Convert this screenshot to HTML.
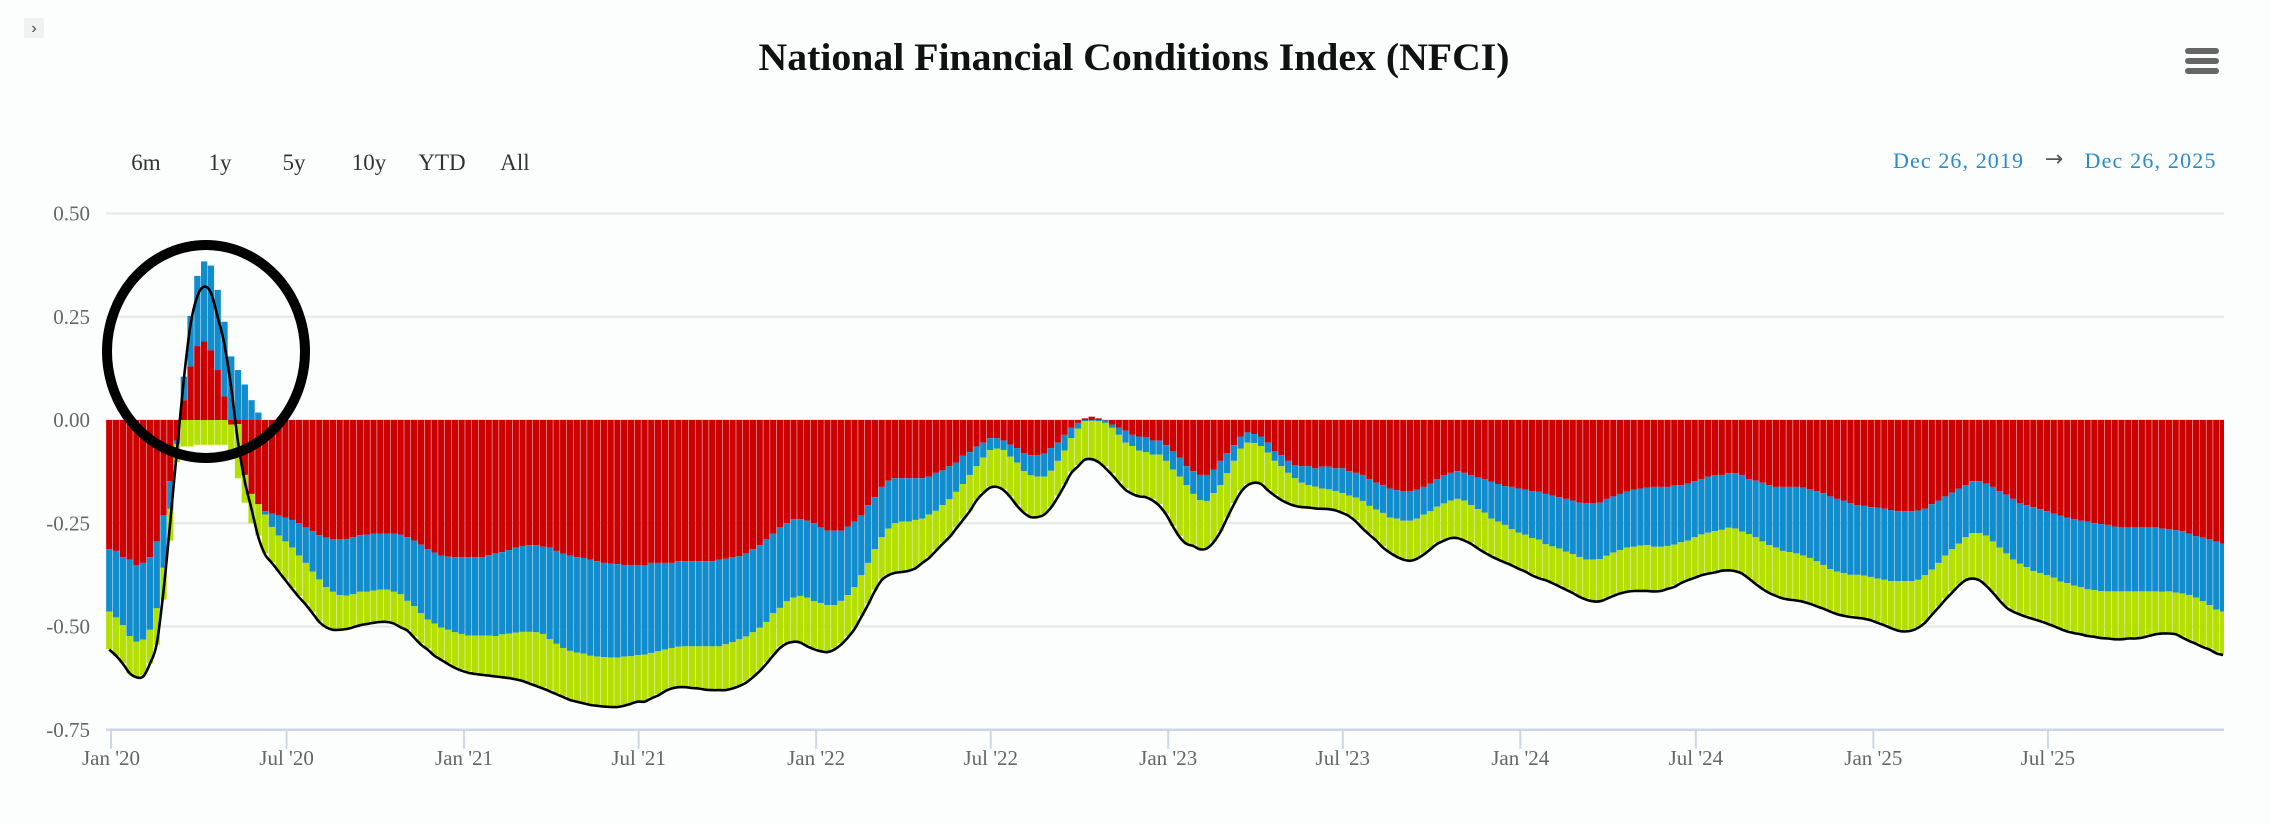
<!DOCTYPE html>
<html><head><meta charset="utf-8"><title>NFCI</title>
<style>
html,body{margin:0;padding:0;background:#fcfdfd;}
#wrap{position:relative;width:2270px;height:824px;overflow:hidden;background:#fcfdfd;font-family:"Liberation Serif",serif;}
svg{position:absolute;left:0;top:0;}
</style></head>
<body>
<div id="wrap">
<svg id="chart" width="2270" height="824" viewBox="0 0 2270 824">
  <rect x="24" y="18" width="20" height="20" fill="#f0f1f1"/>
  <text x="34" y="33" font-size="16" fill="#444" text-anchor="middle" font-family="Liberation Sans, sans-serif">›</text>
  <text x="1134" y="70" font-size="39" font-weight="bold" fill="#111" text-anchor="middle" textLength="751" lengthAdjust="spacingAndGlyphs">National Financial Conditions Index (NFCI)</text>
  <g fill="#666">
    <rect x="2185" y="48" width="34" height="6" rx="3"/>
    <rect x="2185" y="58" width="34" height="6" rx="3"/>
    <rect x="2185" y="68" width="34" height="6" rx="3"/>
  </g>
  <g font-size="23" fill="#333" text-anchor="middle">
    <text x="146" y="170">6m</text>
    <text x="220" y="170">1y</text>
    <text x="294" y="170">5y</text>
    <text x="369" y="170">10y</text>
    <text x="442" y="170">YTD</text>
    <text x="515" y="170">All</text>
  </g>
  <text x="1958" y="168" font-size="22" fill="#2a8bc6" text-anchor="middle" textLength="130">Dec 26, 2019</text>
  <text x="2054" y="166" font-size="22" fill="#555" text-anchor="middle" font-family="DejaVu Sans, sans-serif">→</text>
  <text x="2150" y="168" font-size="22" fill="#2a8bc6" text-anchor="middle" textLength="131">Dec 26, 2025</text>
  <g id="grid"></g>
  <g id="ylabels"></g>
  <defs><clipPath id="plotclip"><rect x="106" y="190" width="2118" height="545"/></clipPath></defs>
  <g id="bars" clip-path="url(#plotclip)"></g>
  <path id="nfciLine" fill="none" stroke="#000" stroke-width="2.6" stroke-linejoin="round"/>
  <g id="xaxis"></g>
  <ellipse cx="206" cy="351.5" rx="99" ry="106.5" fill="none" stroke="#000" stroke-width="10"/>
</svg>
</div>
<script>
const yTicks = [0.5, 0.25, 0, -0.25, -0.5, -0.75];
const yTickLabels = ["0.50","0.25","0.00","-0.25","-0.50","-0.75"];
const xTickDays = [0,182,366,547,731,912,1096,1277,1461,1643,1827,2008];
const xTickLabels = ["Jan '20","Jul '20","Jan '21","Jul '21","Jan '22","Jul '22","Jan '23","Jul '23","Jan '24","Jul '24","Jan '25","Jul '25"];
const riskValues = [
-.313,-.317,-.332,-.338,-.352,-.346,-.332,-.294,-.231,-.148,
-.050,.048,.130,.179,.190,.169,.121,.057,-.011,-.010,
-.133,-.179,-.204,-.221,-.227,-.231,-.236,-.242,-.250,-.260,
-.269,-.279,-.285,-.289,-.289,-.288,-.284,-.279,-.278,-.275,
-.275,-.275,-.275,-.278,-.284,-.292,-.302,-.313,-.321,-.328,
-.331,-.332,-.332,-.332,-.332,-.332,-.327,-.323,-.320,-.315,
-.309,-.305,-.303,-.303,-.307,-.309,-.317,-.324,-.328,-.332,
-.334,-.338,-.342,-.346,-.348,-.349,-.351,-.351,-.351,-.352,
-.346,-.346,-.346,-.346,-.342,-.342,-.342,-.342,-.342,-.342,
-.338,-.336,-.332,-.330,-.323,-.313,-.303,-.289,-.275,-.260,
-.250,-.240,-.240,-.244,-.250,-.260,-.268,-.268,-.268,-.258,
-.246,-.231,-.206,-.187,-.162,-.147,-.141,-.141,-.141,-.141,
-.141,-.137,-.128,-.122,-.112,-.103,-.086,-.078,-.064,-.055,
-.044,-.044,-.050,-.060,-.068,-.080,-.085,-.085,-.081,-.068,
-.055,-.036,-.019,-.007,.004,.008,.004,-.001,-.011,-.019,
-.026,-.036,-.040,-.042,-.050,-.050,-.061,-.076,-.091,-.112,
-.124,-.133,-.133,-.120,-.099,-.080,-.061,-.040,-.030,-.034,
-.040,-.055,-.076,-.085,-.099,-.109,-.112,-.112,-.117,-.113,
-.113,-.117,-.117,-.124,-.128,-.133,-.143,-.152,-.158,-.166,
-.170,-.172,-.172,-.169,-.162,-.154,-.143,-.134,-.128,-.124,
-.128,-.134,-.139,-.143,-.149,-.155,-.160,-.162,-.166,-.169,
-.172,-.174,-.179,-.183,-.187,-.191,-.195,-.200,-.201,-.201,
-.200,-.191,-.185,-.179,-.173,-.169,-.166,-.164,-.162,-.162,
-.162,-.159,-.158,-.154,-.148,-.143,-.137,-.134,-.133,-.129,
-.129,-.133,-.143,-.147,-.152,-.158,-.162,-.162,-.162,-.162,
-.164,-.168,-.172,-.177,-.185,-.191,-.195,-.201,-.206,-.208,
-.211,-.212,-.215,-.218,-.221,-.221,-.221,-.219,-.215,-.204,
-.195,-.185,-.176,-.166,-.158,-.148,-.148,-.154,-.162,-.172,
-.181,-.191,-.201,-.206,-.211,-.216,-.221,-.227,-.232,-.236,
-.240,-.244,-.246,-.250,-.252,-.254,-.258,-.260,-.260,-.260,
-.260,-.260,-.260,-.263,-.264,-.267,-.269,-.275,-.281,-.285,
-.289,-.294,-.299];
const creditValues = [
-.151,-.161,-.165,-.185,-.185,-.186,-.176,-.162,-.127,-.067,
-.008,.057,.122,.170,.194,.205,.194,.181,.154,.121,
.086,.048,.018,-.008,-.032,-.049,-.058,-.067,-.078,-.086,
-.098,-.107,-.120,-.127,-.135,-.137,-.138,-.137,-.138,-.138,
-.136,-.136,-.141,-.144,-.154,-.159,-.166,-.170,-.172,-.175,
-.177,-.182,-.186,-.190,-.190,-.190,-.195,-.200,-.199,-.202,
-.206,-.208,-.210,-.211,-.211,-.222,-.225,-.228,-.231,-.231,
-.232,-.233,-.231,-.228,-.227,-.226,-.222,-.221,-.218,-.216,
-.218,-.214,-.210,-.206,-.207,-.206,-.206,-.206,-.206,-.206,
-.210,-.207,-.206,-.201,-.201,-.201,-.200,-.200,-.193,-.195,
-.189,-.190,-.186,-.186,-.189,-.183,-.180,-.180,-.170,-.166,
-.159,-.145,-.140,-.126,-.122,-.116,-.109,-.105,-.105,-.101,
-.098,-.092,-.092,-.084,-.080,-.071,-.069,-.055,-.048,-.036,
-.029,-.025,-.023,-.029,-.035,-.044,-.049,-.052,-.056,-.055,
-.044,-.038,-.025,-.014,-.003,-.002,-.003,-.006,-.008,-.017,
-.029,-.027,-.034,-.036,-.034,-.034,-.038,-.044,-.046,-.046,
-.055,-.061,-.063,-.057,-.059,-.049,-.038,-.029,-.025,-.022,
-.023,-.024,-.023,-.027,-.029,-.032,-.040,-.046,-.044,-.053,
-.055,-.055,-.060,-.059,-.060,-.063,-.065,-.065,-.067,-.070,
-.069,-.072,-.072,-.070,-.067,-.067,-.067,-.068,-.067,-.067,
-.067,-.072,-.077,-.081,-.090,-.091,-.094,-.102,-.107,-.109,
-.114,-.116,-.122,-.123,-.124,-.128,-.130,-.132,-.137,-.137,
-.137,-.138,-.136,-.136,-.136,-.138,-.138,-.139,-.145,-.145,
-.143,-.143,-.138,-.138,-.136,-.134,-.136,-.135,-.133,-.132,
-.134,-.137,-.133,-.137,-.142,-.145,-.147,-.155,-.158,-.161,
-.164,-.166,-.170,-.174,-.176,-.176,-.176,-.174,-.169,-.169,
-.169,-.172,-.172,-.172,-.169,-.169,-.169,-.168,-.161,-.158,
-.151,-.143,-.137,-.133,-.126,-.126,-.126,-.126,-.132,-.137,
-.142,-.147,-.147,-.150,-.155,-.155,-.155,-.155,-.159,-.159,
-.161,-.161,-.164,-.162,-.162,-.161,-.157,-.155,-.155,-.155,
-.155,-.155,-.155,-.153,-.151,-.151,-.151,-.149,-.149,-.154,
-.159,-.165,-.165];
const leverageValues = [
-.091,-.093,-.092,-.091,-.085,-.086,-.081,-.088,-.077,-.077,
-.044,-.064,-.064,-.060,-.060,-.060,-.060,-.060,-.063,-.131,
-.067,-.071,-.076,-.094,-.086,-.086,-.092,-.098,-.098,-.098,
-.098,-.101,-.094,-.089,-.081,-.079,-.076,-.079,-.076,-.075,
-.076,-.076,-.075,-.077,-.070,-.073,-.073,-.070,-.076,-.076,
-.081,-.083,-.086,-.086,-.090,-.092,-.094,-.096,-.102,-.106,
-.111,-.117,-.122,-.128,-.129,-.123,-.119,-.117,-.117,-.117,
-.117,-.117,-.117,-.117,-.117,-.117,-.117,-.113,-.111,-.111,
-.107,-.104,-.098,-.096,-.095,-.096,-.098,-.099,-.102,-.103,
-.104,-.108,-.110,-.111,-.109,-.107,-.102,-.098,-.100,-.094,
-.100,-.104,-.111,-.115,-.113,-.115,-.111,-.105,-.102,-.100,
-.098,-.098,-.098,-.098,-.102,-.111,-.117,-.120,-.117,-.115,
-.105,-.102,-.094,-.091,-.090,-.086,-.084,-.086,-.081,-.084,
-.088,-.090,-.094,-.096,-.102,-.098,-.098,-.096,-.090,-.087,
-.084,-.081,-.081,-.088,-.095,-.093,-.100,-.105,-.110,-.113,
-.111,-.113,-.108,-.107,-.107,-.120,-.128,-.136,-.144,-.140,
-.123,-.117,-.113,-.117,-.111,-.107,-.102,-.102,-.100,-.094,
-.090,-.088,-.081,-.080,-.071,-.065,-.056,-.052,-.050,-.046,
-.045,-.044,-.045,-.048,-.055,-.065,-.067,-.073,-.081,-.083,
-.090,-.091,-.094,-.095,-.094,-.090,-.087,-.087,-.088,-.092,
-.094,-.091,-.092,-.094,-.088,-.090,-.088,-.086,-.085,-.087,
-.087,-.090,-.086,-.086,-.089,-.089,-.091,-.094,-.094,-.098,
-.100,-.101,-.102,-.103,-.105,-.104,-.107,-.109,-.106,-.104,
-.102,-.098,-.096,-.094,-.096,-.096,-.096,-.097,-.096,-.101,
-.100,-.100,-.107,-.111,-.113,-.114,-.115,-.112,-.112,-.112,
-.110,-.109,-.107,-.104,-.100,-.100,-.100,-.098,-.101,-.101,
-.102,-.104,-.108,-.112,-.117,-.119,-.117,-.114,-.112,-.108,
-.105,-.104,-.102,-.100,-.102,-.108,-.112,-.119,-.122,-.126,
-.128,-.123,-.120,-.117,-.114,-.113,-.115,-.115,-.113,-.114,
-.112,-.112,-.111,-.111,-.112,-.112,-.113,-.113,-.111,-.110,
-.109,-.104,-.101,-.099,-.099,-.099,-.104,-.108,-.109,-.108,
-.105,-.102,-.102];
const nfciValues = [
-.556,-.571,-.590,-.613,-.623,-.621,-.590,-.542,-.414,-.246,
-.070,.098,.232,.300,.323,.308,.249,.182,.077,-.053,
-.149,-.216,-.284,-.326,-.346,-.367,-.388,-.409,-.429,-.447,
-.468,-.489,-.502,-.508,-.508,-.506,-.502,-.497,-.494,-.491,
-.489,-.489,-.493,-.502,-.510,-.527,-.544,-.556,-.571,-.581,
-.591,-.600,-.607,-.612,-.615,-.617,-.619,-.621,-.623,-.625,
-.628,-.632,-.638,-.644,-.650,-.657,-.664,-.671,-.678,-.682,
-.686,-.690,-.692,-.694,-.695,-.695,-.692,-.687,-.682,-.682,
-.674,-.667,-.657,-.650,-.647,-.647,-.649,-.650,-.653,-.654,
-.654,-.654,-.650,-.644,-.636,-.623,-.608,-.590,-.570,-.552,
-.541,-.537,-.539,-.548,-.555,-.560,-.562,-.556,-.544,-.527,
-.506,-.477,-.447,-.414,-.388,-.376,-.370,-.368,-.365,-.359,
-.346,-.334,-.317,-.300,-.284,-.263,-.242,-.221,-.195,-.177,
-.164,-.162,-.170,-.187,-.208,-.225,-.235,-.235,-.229,-.212,
-.187,-.158,-.128,-.112,-.096,-.095,-.102,-.116,-.133,-.152,
-.169,-.179,-.185,-.187,-.195,-.208,-.229,-.258,-.284,-.300,
-.305,-.313,-.311,-.296,-.271,-.237,-.204,-.175,-.158,-.152,
-.155,-.170,-.183,-.194,-.202,-.208,-.211,-.212,-.214,-.215,
-.216,-.219,-.225,-.233,-.246,-.263,-.278,-.292,-.309,-.321,
-.331,-.338,-.341,-.336,-.326,-.313,-.300,-.292,-.286,-.286,
-.292,-.300,-.311,-.321,-.330,-.338,-.345,-.352,-.360,-.367,
-.376,-.383,-.388,-.395,-.403,-.411,-.419,-.428,-.435,-.439,
-.439,-.433,-.426,-.420,-.416,-.414,-.414,-.414,-.415,-.414,
-.409,-.404,-.395,-.388,-.382,-.376,-.372,-.369,-.365,-.364,
-.366,-.372,-.384,-.397,-.409,-.419,-.426,-.432,-.435,-.437,
-.440,-.445,-.451,-.457,-.464,-.470,-.474,-.477,-.479,-.481,
-.485,-.491,-.497,-.504,-.510,-.512,-.510,-.503,-.491,-.472,
-.454,-.435,-.418,-.401,-.388,-.384,-.388,-.401,-.418,-.437,
-.454,-.464,-.471,-.477,-.482,-.487,-.493,-.499,-.506,-.512,
-.516,-.519,-.523,-.525,-.528,-.529,-.531,-.531,-.529,-.529,
-.527,-.523,-.519,-.517,-.517,-.519,-.527,-.535,-.542,-.550,
-.556,-.565,-.569];

const NS = "http://www.w3.org/2000/svg";
const PLOT_L = 106, PLOT_R = 2224;
function yScale(v){ return 420 - v * 413; }
function xBar(i){ return 109.3 + 6.775 * i; }
function xDate(d){ return 111 + d * 0.9646; }
function mk(tag, attrs){ const e = document.createElementNS(NS, tag); for (const k in attrs) e.setAttribute(k, attrs[k]); return e; }

const grid = document.getElementById('grid');
const ylabels = document.getElementById('ylabels');
yTicks.forEach((t, k) => {
  if (t > -0.75) {
    const ln = mk('line', {x1: PLOT_L, x2: PLOT_R, y1: yScale(t), y2: yScale(t), stroke: '#e6e6e6', 'stroke-width': 2});
    
    
    grid.appendChild(ln);
  }
  const tx = mk('text', {x: 90, y: yScale(t) + 7, 'font-size': 21, fill: '#666', 'text-anchor': 'end'});
  tx.textContent = yTickLabels[k];
  
  
  ylabels.appendChild(tx);
});

const bars = document.getElementById('bars');
const colors = ['#cc0000', '#118dcd', '#b3e000'];
const n = Math.min(riskValues.length, creditValues.length, leverageValues.length);
const seriesNames = ['risk-bar', 'credit-bar', 'leverage-bar'];
for (let i = 0; i < n; i++) {
  let pos = 0, neg = 0;
  const vals = [riskValues[i], creditValues[i], leverageValues[i]];
  for (let s = 0; s < 3; s++) {
    const v = vals[s];
    let a, b;
    if (v >= 0) { a = pos; b = pos + v; pos = b; } else { a = neg; b = neg + v; neg = b; }
    const y1 = yScale(Math.max(a, b)), y2 = yScale(Math.min(a, b));
    const r = mk('rect', {x: xBar(i) - 3.15, y: y1, width: 6.3, height: Math.max(0, y2 - y1), fill: colors[s]});
    
    
    bars.appendChild(r);
  }
}

const pts = nfciValues.map((v, i) => [xBar(i), yScale(v)]);
let d = 'M' + pts[0][0].toFixed(1) + ',' + pts[0][1].toFixed(1);
for (let i = 0; i < pts.length - 1; i++) {
  const p0 = pts[Math.max(0, i - 1)], p1 = pts[i], p2 = pts[i + 1], p3 = pts[Math.min(pts.length - 1, i + 2)];
  const c1x = p1[0] + (p2[0] - p0[0]) / 6, c1y = p1[1] + (p2[1] - p0[1]) / 6;
  const c2x = p2[0] - (p3[0] - p1[0]) / 6, c2y = p2[1] - (p3[1] - p1[1]) / 6;
  d += ' C' + c1x.toFixed(1) + ',' + c1y.toFixed(1) + ' ' + c2x.toFixed(1) + ',' + c2y.toFixed(1) + ' ' + p2[0].toFixed(1) + ',' + p2[1].toFixed(1);
}
document.getElementById('nfciLine').setAttribute('d', d);

const xaxis = document.getElementById('xaxis');
const axisY = yScale(-0.75);
const axl = mk('line', {x1: PLOT_L, x2: PLOT_R, y1: axisY, y2: axisY, stroke: '#ccd6eb', 'stroke-width': 2.5});


xaxis.appendChild(axl);
xTickDays.forEach((dd, k) => {
  const x = xDate(dd);
  const tk = mk('line', {x1: x, x2: x, y1: axisY, y2: axisY + 19, stroke: '#ccd6eb', 'stroke-width': 2});
  
  
  xaxis.appendChild(tk);
  const tx = mk('text', {x: x, y: 765, 'font-size': 21, fill: '#666', 'text-anchor': 'middle'});
  tx.textContent = xTickLabels[k];
  
  
  xaxis.appendChild(tx);
});
</script>
</body></html>
